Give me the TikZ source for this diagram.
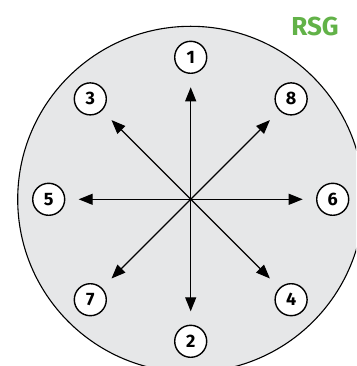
\documentclass[tikz,border=0pt]{standalone}
\usepackage{fontspec}
\setmainfont{Fira Sans}
\usetikzlibrary{arrows.meta}
\definecolor{rsggreen}{RGB}{98,178,72}
\definecolor{discgray}{RGB}{230,231,232}
\begin{document}
\begin{tikzpicture}[x=1pt,y=1pt,
  numnode/.style={circle,draw=black,line width=1.4pt,fill=white,minimum size=32pt,inner sep=0pt,font=\fontsize{18}{18}\selectfont\bfseries},
  ray/.style={line width=1.2pt,-{Triangle[length=14pt,width=11pt]}}]
\useasboundingbox (0,0) rectangle (356,366);
\begin{scope}
\clip (0,0) rectangle (356,366);
\node[circle,draw=black,line width=1.1pt,fill=discgray,minimum size=346pt,inner sep=0pt] (disc) at (190.7,166.7) {};
\end{scope}
\node[font=\fontsize{26}{26}\selectfont\bfseries,text=rsggreen,inner sep=0pt] (rsg) at (315,340) {RSG};
\begin{scope}[shift={(190.7,166.7)}]
\coordinate (c) at (0,0);
\node[numnode] (n1) at (90:142) {1};
\node[numnode] (n2) at (270:142) {2};
\node[numnode] (n3) at (135:142) {3};
\node[numnode] (n4) at (315:142) {4};
\node[numnode] (n5) at (180:142) {5};
\node[numnode] (n6) at (0:142) {6};
\node[numnode] (n7) at (225:142) {7};
\node[numnode] (n8) at (45:142) {8};
\foreach \a/\n in {90/1,270/2,135/3,315/4,180/5,0/6,225/7,45/8}{
  \coordinate (t\n) at (\a:112);
  \draw[ray] (c) -- (t\n);
}
\end{scope}
\end{tikzpicture}
\end{document}
